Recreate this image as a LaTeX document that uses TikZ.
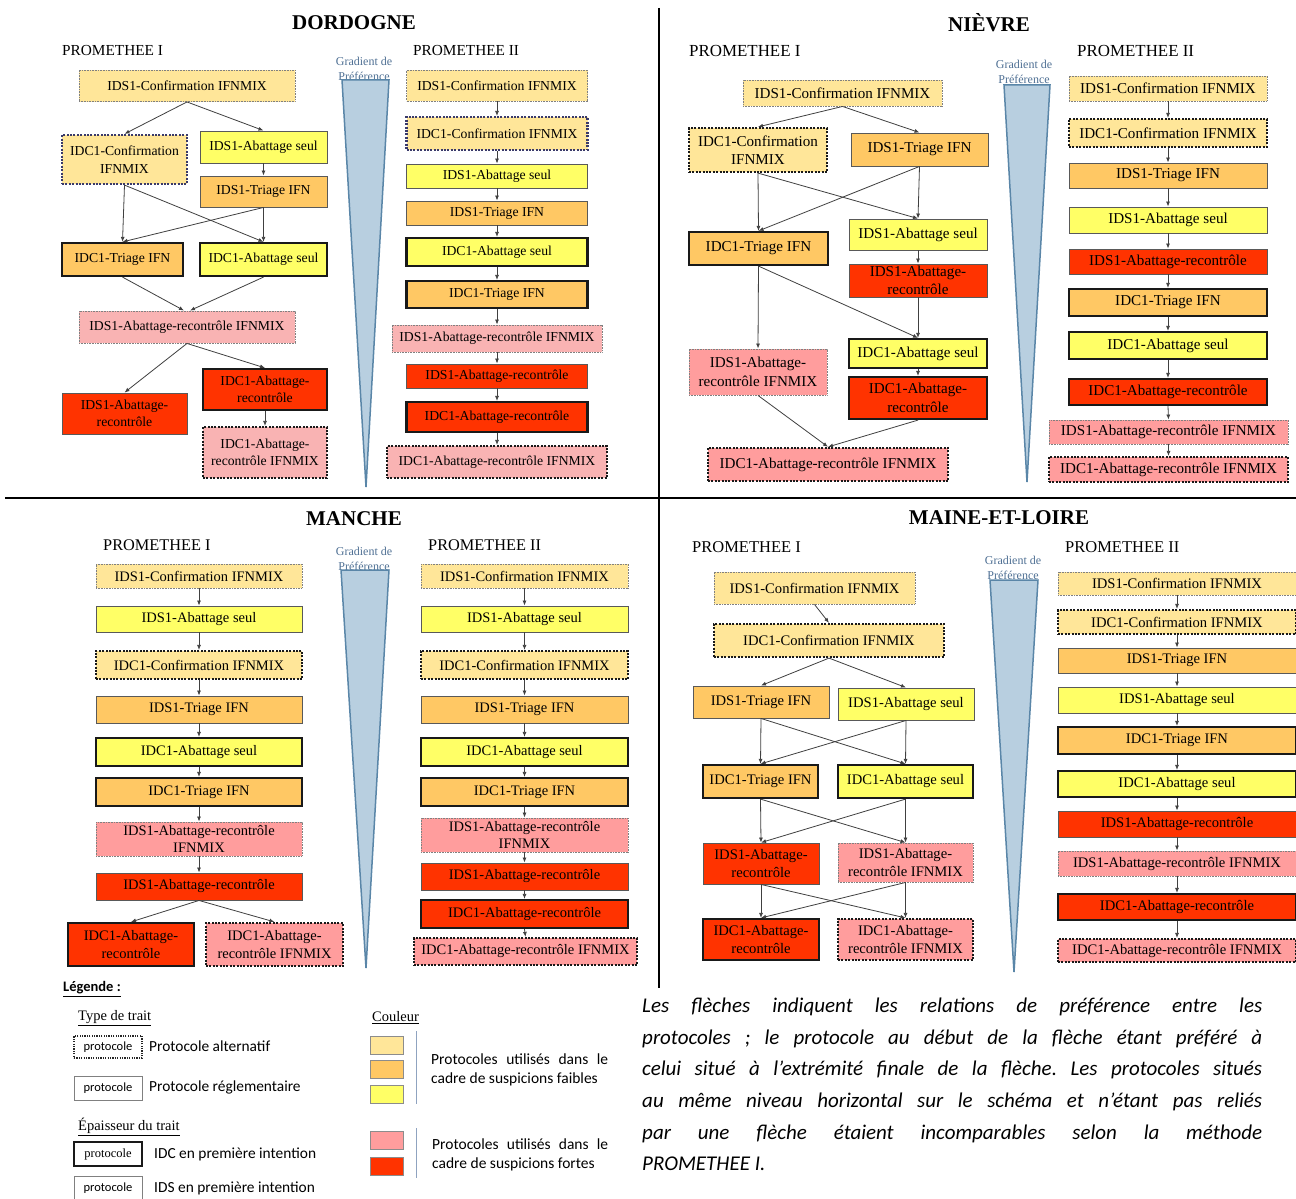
\documentclass[tikz,border=0pt]{standalone}
\usepackage{fontspec}
\setmainfont{Liberation Serif}
\newfontfamily\calib{Carlito}
\usetikzlibrary{arrows.meta}
\definecolor{cconf}{HTML}{FFE699}
\definecolor{ctri}{HTML}{FFC864}
\definecolor{cab}{HTML}{FFFF66}
\definecolor{cpink}{HTML}{FF9D9D}
\definecolor{cpinkl}{HTML}{F9B3B3}
\definecolor{cred}{HTML}{FF3300}
\definecolor{cgrad}{HTML}{B8CFE0}
\definecolor{cgradb}{HTML}{5A86A8}
\definecolor{cgradt}{HTML}{4F7094}
\definecolor{cnavy}{HTML}{3A3A6A}
\definecolor{cbrack}{HTML}{8FA3C0}
\tikzset{
  box/.style={rectangle, inner sep=1pt, align=center},
  sz/.style 2 args={minimum width=#1, minimum height=#2},
  idsreg/.style={box, draw=black!65, line width=0.9pt},
  idsalt/.style={box, draw=black!50, line width=0.9pt, dash pattern=on 0.9pt off 0.7pt},
  idcreg/.style={box, draw=black!90, line width=2.2pt},
  idcalt/.style={box, draw=black!90, line width=2.2pt, dash pattern=on 2pt off 1.4pt},
  navy/.style={draw=cnavy},
  fconf/.style={fill=cconf}, ftri/.style={fill=ctri}, fab/.style={fill=cab},
  fpink/.style={fill=cpink}, fpinkl/.style={fill=cpinkl}, fred/.style={fill=cred},
  arr/.style={draw=black!75, line width=0.8pt, -{Latex[length=5pt,width=4pt]}},
  ttl/.style={font=\fontsize{21}{25}\selectfont\bfseries},
  prom/.style={anchor=west, inner sep=0pt},
  gradlab/.style={align=center, text=cgradt, inner sep=0pt, font=\fontsize{12}{15}\selectfont},
  gradtri/.style={fill=cgrad, draw=cgradb, line width=1.5pt, line join=miter},
  legtxt/.style={anchor=west, inner sep=0pt, font=\calib\fontsize{15.4}{18}\selectfont},
  legsub/.style={anchor=west, inner sep=0pt, font=\fontsize{14.5}{17}\selectfont},
  swatch/.style={draw=black!45, line width=0.6pt, minimum width=33, minimum height=18, inner sep=0pt},
}
\begin{document}
\begin{tikzpicture}[x=1pt,y=-1pt]
\useasboundingbox[fill=white] (0,0) rectangle (1296,1199);
% dividers
\draw[line width=1.2pt] (5,498) -- (1296,498);
\draw[line width=1.2pt] (659,8) -- (659,988);

% ================= DORDOGNE =================
\node[ttl] (tD) at (354,23) {DORDOGNE};
\begin{scope}[every node/.append style={font=\fontsize{13.7}{17.5}\selectfont}]
\node[prom, font=\fontsize{15.3}{18}\selectfont] (pD1) at (62,51) {PROMETHEE I};
\node[prom, font=\fontsize{15.3}{18}\selectfont] (pD2) at (413,51) {PROMETHEE II};
\node[gradlab] (gD) at (364,69) {Gradient de\\Préférence};
\draw[gradtri] (342,80) -- (389,80) -- (366,487) -- cycle;

\node[idsalt,fconf,sz={216}{31}] (A1) at (187,86) {IDS1-Confirmation IFNMIX};
\node[idcalt,navy,fconf,sz={125}{49}] (A2) at (124.5,159.5) {IDC1-Confirmation\\IFNMIX};
\node[idsreg,fab,sz={127}{32}] (A3) at (263.5,147) {IDS1-Abattage seul};
\node[idsreg,ftri,sz={127}{31}] (A4) at (263.5,191.5) {IDS1-Triage IFN};
\node[idcreg,ftri,sz={121}{33}] (A5) at (122.5,259.5) {IDC1-Triage IFN};
\node[idcreg,fab,sz={127}{33}] (A6) at (263.5,259.5) {IDC1-Abattage seul};
\node[idsalt,fpinkl,sz={216}{32}] (A7) at (187,327) {IDS1-Abattage-recontrôle IFNMIX};
\node[idsreg,fred,sz={125}{41}] (A8) at (124.5,413.5) {IDS1-Abattage-\\recontrôle};
\node[idcreg,fred,sz={124}{41}] (A9) at (265,389.5) {IDC1-Abattage-\\recontrôle};
\node[idcalt,fpinkl,sz={124}{51}] (A10) at (265,452.5) {IDC1-Abattage-\\recontrôle IFNMIX};
\draw[arr] (A1.south) -- (A2.north);
\draw[arr] (A1.south) -- (A3.north);
\draw[arr] (A3.south) -- (A4.north);
\draw[arr] (A2.south) -- (A5.north);
\draw[arr] (A2.south) -- (A6.north);
\draw[arr] (A4.south) -- (A5.north);
\draw[arr] (A4.south) -- (A6.north);
\draw[arr] (A5.south) -- ([xshift=-3pt]A7.north);
\draw[arr] (A6.south) -- ([xshift=3pt]A7.north);
\draw[arr] (A7.south) -- (A8.north);
\draw[arr] (A7.south) -- (A9.north);
\draw[arr] (A9.south) -- (A10.north);

\node[idsalt,fconf,sz={181}{31}] (B1) at (497,85.5) {IDS1-Confirmation IFNMIX};
\node[idcalt,navy,fconf,sz={181}{33}] (B2) at (497,133.5) {IDC1-Confirmation IFNMIX};
\node[idsreg,fab,sz={181}{24}] (B3) at (497,176) {IDS1-Abattage seul};
\node[idsreg,ftri,sz={181}{24}] (B4) at (497,213) {IDS1-Triage IFN};
\node[idcreg,fab,sz={181}{28}] (B5) at (497,252) {IDC1-Abattage seul};
\node[idcreg,ftri,sz={181}{27}] (B6) at (497,294.5) {IDC1-Triage IFN};
\node[idsalt,fpinkl,sz={210}{27}] (B7) at (497,338.5) {IDS1-Abattage-recontrôle IFNMIX};
\node[idsreg,fred,sz={181}{24}] (B8) at (497,376) {IDS1-Abattage-recontrôle};
\node[idcreg,fred,sz={181}{30}] (B9) at (497,417) {IDC1-Abattage-recontrôle};
\node[idcalt,fpinkl,sz={220}{32}] (B10) at (497,462) {IDC1-Abattage-recontrôle IFNMIX};
\foreach \a/\b in {B1/B2,B2/B3,B3/B4,B4/B5,B5/B6,B6/B7,B7/B8,B8/B9,B9/B10}
  \draw[arr] (\a.south) -- (\b.north);
\end{scope}

% ================= NIEVRE =================
\node[ttl] (tN) at (989,23) {NIÈVRE};
\begin{scope}[every node/.append style={font=\fontsize{15.1}{18.5}\selectfont}]
\node[prom, font=\fontsize{16.9}{20}\selectfont] (pN1) at (689,51) {PROMETHEE I};
\node[prom, font=\fontsize{16.9}{20}\selectfont] (pN2) at (1077,51) {PROMETHEE II};
\node[gradlab] (gN) at (1024,72) {Gradient de\\Préférence};
\draw[gradtri] (1004,85) -- (1050,85) -- (1027,482) -- cycle;

\node[idsalt,fconf,sz={199}{26}] (C1) at (842.5,93) {IDS1-Confirmation IFNMIX};
\node[idcalt,fconf,sz={138}{44}] (C2) at (758,150) {IDC1-Confirmation\\IFNMIX};
\node[idsreg,ftri,sz={137}{33}] (C3) at (919.5,149.5) {IDS1-Triage IFN};
\node[idcreg,ftri,sz={139}{33}] (C4) at (758.5,248.5) {IDC1-Triage IFN};
\node[idsreg,fab,sz={138}{31}] (C5) at (918,234.5) {IDS1-Abattage seul};
\node[idsreg,fred,sz={138}{33}] (C6) at (918,280.5) {IDS1-Abattage-\\recontrôle};
\node[idsalt,fpink,sz={138}{46}] (C7) at (758,372) {IDS1-Abattage-\\recontrôle IFNMIX};
\node[idcreg,fab,sz={138}{29}] (C8) at (918,353.5) {IDC1-Abattage seul};
\node[idcreg,fred,sz={138}{42}] (C9) at (918,398) {IDC1-Abattage-\\recontrôle};
\node[idcalt,fpink,sz={240}{33}] (C10) at (828,464.5) {IDC1-Abattage-recontrôle IFNMIX};
\foreach \a/\b in {C1/C2,C1/C3,C2/C4,C2/C5,C3/C4,C3/C5,C5/C6,C4/C7,C4/C8,C6/C8,C8/C9,C7/C10,C9/C10}
  \draw[arr] (\a.south) -- (\b.north);

\node[idsalt,fconf,sz={198}{25}] (D1) at (1168,88.5) {IDS1-Confirmation IFNMIX};
\node[idcalt,fconf,sz={198}{28}] (D2) at (1168,133) {IDC1-Confirmation IFNMIX};
\node[idsreg,ftri,sz={198}{25}] (D3) at (1168,175.5) {IDS1-Triage IFN};
\node[idsreg,fab,sz={198}{26}] (D4) at (1168,220) {IDS1-Abattage seul};
\node[idsreg,fred,sz={198}{25}] (D5) at (1168,261.5) {IDS1-Abattage-recontrôle};
\node[idcreg,ftri,sz={198}{27}] (D6) at (1168,302.5) {IDC1-Triage IFN};
\node[idcreg,fab,sz={198}{27}] (D7) at (1168,345.5) {IDC1-Abattage seul};
\node[idcreg,fred,sz={198}{26}] (D8) at (1168,392) {IDC1-Abattage-recontrôle};
\node[idsalt,fpink,sz={239}{24}] (D9) at (1168.5,432) {IDS1-Abattage-recontrôle IFNMIX};
\node[idcalt,fpink,sz={239}{25}] (D10) at (1168.5,469.5) {IDC1-Abattage-recontrôle IFNMIX};
\foreach \a/\b in {D1/D2,D2/D3,D3/D4,D4/D5,D5/D6,D6/D7,D7/D8,D8/D9,D9/D10}
  \draw[arr] (\a.south) -- (\b.north);
\end{scope}

% ================= MANCHE =================
\node[ttl] (tM) at (354,519) {MANCHE};
\begin{scope}[every node/.append style={font=\fontsize{14.5}{17.5}\selectfont}]
\node[prom, font=\fontsize{16.3}{19}\selectfont] (pM1) at (103,545) {PROMETHEE I};
\node[prom, font=\fontsize{16.3}{19}\selectfont] (pM2) at (428,545) {PROMETHEE II};
\node[gradlab] (gM) at (364,558.5) {Gradient de\\Préférence};
\draw[gradtri] (341,570) -- (389,570) -- (366,968) -- cycle;

\node[idsalt,fconf,sz={206}{24}] (E1) at (199,576) {IDS1-Confirmation IFNMIX};
\node[idsreg,fab,sz={206}{26}] (E2) at (199,619) {IDS1-Abattage seul};
\node[idcalt,fconf,sz={206}{28}] (E3) at (199,665) {IDC1-Confirmation IFNMIX};
\node[idsreg,ftri,sz={206}{27}] (E4) at (199,709.5) {IDS1-Triage IFN};
\node[idcreg,fab,sz={206}{28}] (E5) at (199,752) {IDC1-Abattage seul};
\node[idcreg,ftri,sz={206}{28}] (E6) at (199,792) {IDC1-Triage IFN};
\node[idsalt,fpink,sz={206}{34}] (E7) at (199,839) {IDS1-Abattage-recontrôle\\IFNMIX};
\node[idsreg,fred,sz={206}{27}] (E8) at (199,886.5) {IDS1-Abattage-recontrôle};
\node[idcreg,fred,sz={126}{43}] (E9) at (131,944.5) {IDC1-Abattage-\\recontrôle};
\node[idcalt,fpink,sz={137}{43}] (E10) at (274.5,944.5) {IDC1-Abattage-\\recontrôle IFNMIX};
\foreach \a/\b in {E1/E2,E2/E3,E3/E4,E4/E5,E5/E6,E6/E7,E7/E8,E8/E9,E8/E10}
  \draw[arr] (\a.south) -- (\b.north);

\node[idsalt,fconf,sz={207}{24}] (F1) at (524.5,576) {IDS1-Confirmation IFNMIX};
\node[idsreg,fab,sz={207}{26}] (F2) at (524.5,619) {IDS1-Abattage seul};
\node[idcalt,fconf,sz={207}{28}] (F3) at (524.5,665) {IDC1-Confirmation IFNMIX};
\node[idsreg,ftri,sz={207}{27}] (F4) at (524.5,709.5) {IDS1-Triage IFN};
\node[idcreg,fab,sz={207}{28}] (F5) at (524.5,752) {IDC1-Abattage seul};
\node[idcreg,ftri,sz={207}{28}] (F6) at (524.5,792) {IDC1-Triage IFN};
\node[idsalt,fpink,sz={207}{34}] (F7) at (524.5,835) {IDS1-Abattage-recontrôle\\IFNMIX};
\node[idsreg,fred,sz={207}{27}] (F8) at (524.5,876.5) {IDS1-Abattage-recontrôle};
\node[idcreg,fred,sz={207}{28}] (F9) at (524.5,914) {IDC1-Abattage-recontrôle};
\node[idcalt,fpink,sz={223}{27}] (F10) at (525.5,951.5) {IDC1-Abattage-recontrôle IFNMIX};
\foreach \a/\b in {F1/F2,F2/F3,F3/F4,F4/F5,F5/F6,F6/F7,F7/F8,F8/F9,F9/F10}
  \draw[arr] (\a.south) -- (\b.north);
\end{scope}

% ================= MAINE-ET-LOIRE =================
\node[ttl] (tL) at (999,518) {MAINE-ET-LOIRE};
\begin{scope}[every node/.append style={font=\fontsize{14.6}{18.5}\selectfont}]
\node[prom, font=\fontsize{16.5}{19}\selectfont] (pL1) at (692,547) {PROMETHEE I};
\node[prom, font=\fontsize{16.5}{19}\selectfont] (pL2) at (1065,547) {PROMETHEE II};
\node[gradlab] (gL) at (1013,567.5) {Gradient de\\Préférence};
\draw[gradtri] (990,580) -- (1038,580) -- (1014,972) -- cycle;

\node[idsalt,fconf,sz={201}{32}] (G1) at (814.5,588) {IDS1-Confirmation IFNMIX};
\node[idcalt,fconf,sz={230}{33}] (G2) at (829,640.5) {IDC1-Confirmation IFNMIX};
\node[idsreg,ftri,sz={136}{32}] (G3) at (761,702) {IDS1-Triage IFN};
\node[idsreg,fab,sz={136}{32}] (G4) at (906,704) {IDS1-Abattage seul};
\node[idcreg,ftri,sz={115}{33}] (G5) at (760.5,781.5) {IDC1-Triage IFN};
\node[idcreg,fab,sz={135}{33}] (G6) at (905.5,781.5) {IDC1-Abattage seul};
\node[idsreg,fred,sz={116}{41}] (G7) at (761,863.5) {IDS1-Abattage-\\recontrôle};
\node[idsalt,fpink,sz={135}{39}] (G8) at (905.5,862.5) {IDS1-Abattage-\\recontrôle IFNMIX};
\node[idcreg,fred,sz={116}{41}] (G9) at (761,939.5) {IDC1-Abattage-\\recontrôle};
\node[idcalt,fpink,sz={135}{41}] (G10) at (905.5,939.5) {IDC1-Abattage-\\recontrôle IFNMIX};
\foreach \a/\b in {G1/G2,G2/G3,G2/G4,G3/G5,G3/G6,G4/G5,G4/G6,G5/G7,G5/G8,G6/G7,G6/G8,G7/G9,G7/G10,G8/G9,G8/G10}
  \draw[arr] (\a.south) -- (\b.north);

\node[idsalt,fconf,sz={238}{23}] (H1) at (1177,583.5) {IDS1-Confirmation IFNMIX};
\node[idcalt,fconf,sz={238}{24}] (H2) at (1177,622) {IDC1-Confirmation IFNMIX};
\node[idsreg,ftri,sz={238}{25}] (H3) at (1177,660.5) {IDS1-Triage IFN};
\node[idsreg,fab,sz={238}{26}] (H4) at (1177,700) {IDS1-Abattage seul};
\node[idcreg,ftri,sz={238}{27}] (H5) at (1177,740.5) {IDC1-Triage IFN};
\node[idcreg,fab,sz={238}{26}] (H6) at (1177,784) {IDC1-Abattage seul};
\node[idsreg,fred,sz={238}{26}] (H7) at (1177,824) {IDS1-Abattage-recontrôle};
\node[idsalt,fpink,sz={238}{25}] (H8) at (1177,863.5) {IDS1-Abattage-recontrôle IFNMIX};
\node[idcreg,fred,sz={238}{26}] (H9) at (1177,907) {IDC1-Abattage-recontrôle};
\node[idcalt,fpink,sz={238}{23}] (H10) at (1177,950.5) {IDC1-Abattage-recontrôle IFNMIX};
\foreach \a/\b in {H1/H2,H2/H3,H3/H4,H4/H5,H5/H6,H6/H7,H7/H8,H8/H9,H9/H10}
  \draw[arr] (\a.south) -- (\b.north);
\end{scope}

% ================= LEGEND =================
\node[anchor=west, inner sep=0pt, font=\calib\bfseries\fontsize{14.5}{17}\selectfont] (lg) at (63,989) {\underline{Légende :}};
\node[legsub] (lt1) at (78,1018) {\underline{Type de trait}};
\node[draw=black!85, line width=1.4pt, dash pattern=on 1.2pt off 1.2pt, sz={68}{22}, inner sep=0pt, font=\calib\fontsize{12.5}{14}\selectfont] (L1) at (108,1047) {protocole};
\node[legtxt] (L1t) at (149,1046) {Protocole alternatif};
\node[draw=black!50, line width=0.8pt, sz={68}{24}, inner sep=0pt, font=\calib\fontsize{12.5}{14}\selectfont] (L2) at (108,1088) {protocole};
\node[legtxt] (L2t) at (149,1087) {Protocole réglementaire};
\node[legsub] (lt2) at (78,1127) {\underline{Épaisseur du trait}};
\node[draw=black!90, line width=2pt, sz={68}{24}, inner sep=0pt, font=\fontsize{12.5}{14}\selectfont] (L3) at (108,1154) {protocole};
\node[legtxt] (L3t) at (154,1154) {IDC en première intention};
\node[draw=black!50, line width=0.8pt, sz={68}{24}, inner sep=0pt, font=\calib\fontsize{12.5}{14}\selectfont] (L4) at (108,1188) {protocole};
\node[legtxt] (L4t) at (154,1188) {IDS en première intention};

\node[legsub] (lt3) at (372,1018) {\underline{Couleur}};
\node[swatch, fill=cconf] (S1) at (386.5,1045) {};
\node[swatch, fill=ctri] (S2) at (386.5,1069) {};
\node[swatch, fill=cab] (S3) at (386.5,1094.5) {};
\node[swatch, fill=cpink] (S4) at (386.5,1140.5) {};
\node[swatch, fill=cred] (S5) at (386.5,1166) {};
\draw[cbrack, line width=0.8pt] (416,1031) -- (416,1104);
\draw[cbrack, line width=0.8pt] (416,1128) -- (416,1178);
\node[anchor=west, text width=177pt, align=justify, inner sep=0pt, font=\calib\fontsize{15.5}{19}\selectfont] (C1t) at (431,1069.5) {Protocoles utilisés dans le\linebreak cadre de suspicions faibles};
\node[anchor=west, text width=176pt, align=justify, inner sep=0pt, font=\calib\fontsize{15.5}{19}\selectfont] (C2t) at (432,1154.5) {Protocoles utilisés dans le\linebreak cadre de suspicions fortes};

% ================= PARAGRAPH =================
\node[anchor=north west, text width=620pt, align=justify, inner sep=0pt, font=\calib\itshape\fontsize{21}{31.6}\selectfont\frenchspacing] (par) at (642,998) {Les flèches indiquent les relations de préférence entre les\linebreak protocoles ; le protocole au début de la flèche étant préféré à\linebreak celui situé à l’extrémité finale de la flèche. Les protocoles situés\linebreak au même niveau horizontal sur le schéma et n’étant pas reliés\linebreak par une flèche étaient incomparables selon la méthode\linebreak PROMETHEE I.};
\end{tikzpicture}
\end{document}
